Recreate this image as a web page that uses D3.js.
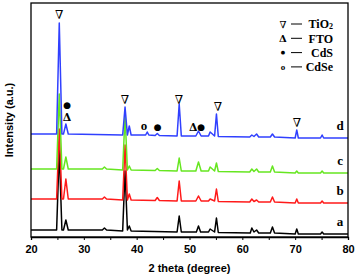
<!DOCTYPE html>
<html>
<head>
<meta charset="utf-8">
<script src="https://cdn.jsdelivr.net/npm/d3@7"></script>
<style>
  body { margin: 0; background: #fff; }
  svg { display: block; }
</style>
</head>
<body>
<div id="chart"></div>
<script>
// XRD patterns, [2theta, intensity] (a.u.)
const seriesA = [[20,7],[24.85,7],[25.35,87],[25.85,7],[26.15,7],[26.6,17],[27.05,7],[33.5,7],[33.9,9],[34.3,7],[37.35,6],[37.8,66],[38.25,7],[38.6,11],[38.95,6],[47.65,5],[48.05,21],[48.45,5],[51.3,5],[51.7,11],[52.1,5],[53.6,5],[53.9,8],[54.75,5],[55.1,19],[55.45,4.5],[61.5,4],[61.8,9],[62.2,5],[62.7,7],[63.1,4],[65.3,4],[65.7,10],[66.1,4],[70,3],[70.3,8],[70.6,3],[74.8,3],[75.1,5],[75.4,3],[80,3]];
const seriesB = [[20,7],[24.85,7],[25.35,77],[25.85,7],[26.15,7],[26.6,27],[27.05,7],[33.5,7],[33.9,9],[34.3,7],[37.35,6],[37.8,61],[38.25,6],[38.6,12],[38.95,6],[43.5,5.5],[43.9,8.5],[44.3,5.5],[47.65,5],[48.05,25],[48.45,5],[51.2,5],[51.7,10],[52.2,5],[53.6,5],[53.9,7],[54.75,5],[55.1,17],[55.45,4.5],[61.4,4],[61.8,7],[62.2,4.5],[62.7,6],[63.1,4],[65.3,4],[65.7,9],[66.1,4],[70,3],[70.3,7],[70.6,3],[74.8,3],[75.1,5],[75.4,3],[80,3]];
const seriesC = [[20,7],[24.85,7],[25.35,82],[25.85,7],[26.15,7],[26.6,19],[27.05,7],[33.5,7],[33.9,9],[34.3,7],[37.35,6],[37.8,61],[38.25,6],[38.6,10],[38.95,6],[43.5,5.5],[43.9,7.5],[44.3,5.5],[47.65,5],[48.05,18],[48.45,5],[51.2,5],[51.7,14],[52.2,5],[53.6,5],[53.9,9],[54.75,5],[55.1,13],[55.45,4.5],[61.4,4],[61.8,7],[62.2,4.5],[62.7,7],[63.1,4],[65.3,4],[65.7,10],[66.1,4],[70,3],[70.3,5],[70.6,3],[74.8,3],[75.1,5],[75.4,3],[80,3]];
const seriesD = [[20,7],[24.85,7],[25.35,118],[25.85,7],[26.15,7],[26.6,17],[27.05,7],[37.35,6],[37.8,34],[38.25,6],[38.6,15],[38.95,6],[41.7,6],[42.0,9],[42.3,6],[43.5,5.5],[43.9,7.5],[44.3,5.5],[47.65,5],[48.05,37],[48.45,5],[51.2,5],[51.7,10],[52.2,5],[53.6,5],[53.9,9],[54.75,5],[55.1,27],[55.45,4.5],[61.4,4],[61.8,6],[62.2,4.5],[62.7,7],[63.1,4],[65.3,4],[65.7,7],[66.1,4],[70,3],[70.3,11],[70.6,3],[74.8,3],[75.1,6],[75.4,3],[80,3]];

const seriesNames = ["a", "b", "c", "d"];
const seriesOffsets = [0, 31, 61, 96];
const seriesColors = ["#000000", "#ff1a1a", "#66e620", "#3040ff"];
const xTicks = [20, 30, 40, 50, 60, 70, 80];

// phase markers: [glyph, 2theta, intensity level]
const markers = [
  ["∇", 25.35, 222], ["●", 26.85, 132], ["Δ", 26.8, 120],
  ["∇", 37.8, 137], ["o", 41.4, 112], ["●", 44.0, 110],
  ["∇", 48.0, 137], ["Δ", 50.7, 110], ["●", 52.2, 110],
  ["∇", 55.4, 130], ["∇", 70.35, 114]
];
const legendSymbols = ["∇", "Δ", "●", "o"];
const legendLabels = ["TiO", "FTO", "CdS", "CdSe"];

const W = 356, H = 279;
const margin = { top: 3, right: 8, bottom: 42, left: 31 };

const svg = d3.select("#chart").append("svg")
  .attr("width", W).attr("height", H);

const x = d3.scaleLinear().domain([20, 80]).range([margin.left, W - margin.right]);
const y = d3.scaleLinear().domain([0, 234]).range([H - margin.bottom, margin.top]);

const line = d3.line()
  .x(d => x(d[0]))
  .y(d => y(d[1]));

[seriesA, seriesB, seriesC, seriesD].forEach((s, i) => {
  svg.append("path")
    .datum(s.map(p => [p[0], p[1] + seriesOffsets[i]]))
    .attr("d", line)
    .attr("fill", "none")
    .attr("stroke", seriesColors[i])
    .attr("stroke-width", 1.5)
    .attr("stroke-linejoin", "round");

  // series letter at right end
  svg.append("text")
    .attr("x", x(78.5))
    .attr("y", y(s[s.length - 1][1] + seriesOffsets[i]) - 8)
    .attr("text-anchor", "middle")
    .style("font-family", "'Liberation Serif', serif")
    .style("font-weight", "bold")
    .style("font-size", "13px")
    .text(seriesNames[i]);
});

// frame
svg.append("rect")
  .attr("x", x(20)).attr("y", y(234))
  .attr("width", x(80) - x(20)).attr("height", y(0) - y(234))
  .attr("fill", "none").attr("stroke", "#000").attr("stroke-width", 1.3);

// x axis
const xAxis = svg.append("g")
  .attr("transform", `translate(0,${y(0)})`)
  .call(d3.axisBottom(x).tickValues(xTicks).tickSize(3).tickPadding(5).tickFormat(d3.format("d")));
xAxis.select(".domain").attr("stroke-width", 1.3);
xAxis.selectAll("text")
  .style("font-family", "'Liberation Sans', Arial, sans-serif")
  .style("font-weight", "bold")
  .style("font-size", "11px");
svg.append("g")
  .attr("transform", `translate(0,${y(0)})`)
  .call(d3.axisBottom(x).tickValues(d3.range(25, 80, 10)).tickSize(3).tickFormat(""))
  .select(".domain").remove();

svg.append("text")
  .attr("x", (x(20) + x(80)) / 2)
  .attr("y", 272)
  .attr("text-anchor", "middle")
  .style("font-family", "'Liberation Sans', Arial, sans-serif")
  .style("font-weight", "bold")
  .style("font-size", "11px")
  .text("2 theta (degree)");

svg.append("text")
  .attr("transform", `translate(13,${(y(0) + y(234)) / 2}) rotate(-90)`)
  .attr("text-anchor", "middle")
  .style("font-family", "'Liberation Sans', Arial, sans-serif")
  .style("font-weight", "bold")
  .style("font-size", "11px")
  .text("Intensity (a.u.)");

// phase markers
const markerSize = { "∇": "12px", "Δ": "11px", "●": "9px", "o": "13px" };
const markerFont = g => g === "●" ? "'DejaVu Sans', sans-serif"
  : g === "o" ? "'Liberation Serif', serif" : "'DejaVu Serif', serif";
svg.selectAll(".marker")
  .data(markers)
  .enter().append("text")
  .attr("class", "marker")
  .attr("x", d => x(d[1]))
  .attr("y", d => y(d[2]))
  .attr("dy", "0.35em")
  .attr("text-anchor", "middle")
  .attr("fill", "#000")
  .style("font-family", d => markerFont(d[0]))
  .style("font-size", d => markerSize[d[0]])
  .style("font-weight", d => d[0] === "∇" ? "normal" : "bold")
  .text(d => d[0]);

// legend
const legendSize = ["10px", "10px", "5px", "9px"];
const legend = svg.append("g");
legendLabels.forEach((lab, i) => {
  const ly = 24 + i * 14.3;
  legend.append("text")
    .attr("x", 283).attr("y", ly).attr("dy", "0.35em")
    .attr("text-anchor", "middle")
    .attr("fill", "#000")
    .style("font-family", markerFont(legendSymbols[i]))
    .style("font-weight", i === 0 ? "normal" : "bold")
    .style("font-size", legendSize[i])
    .text(legendSymbols[i]);
  legend.append("line")
    .attr("x1", 291).attr("x2", 302)
    .attr("y1", ly).attr("y2", ly)
    .attr("stroke", "#000").attr("stroke-width", 1);
  const t = legend.append("text")
    .attr("x", 333).attr("y", ly).attr("dy", "0.35em")
    .attr("text-anchor", "end")
    .attr("fill", "#000")
    .style("font-family", "'Liberation Serif', serif")
    .style("font-weight", "bold")
    .style("font-size", "12px")
    .text(lab);
  if (i === 0) {
    t.append("tspan").attr("font-size", "8px").attr("dy", "0.1em").text("2");
  }
});
</script>
</body>
</html>
